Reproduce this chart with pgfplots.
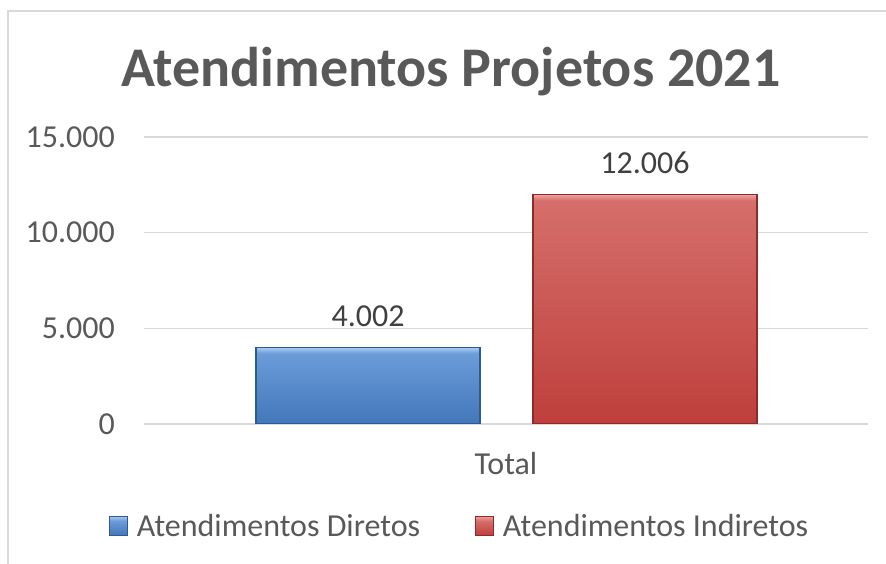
\documentclass[border=0pt]{standalone}
\usepackage{fontspec}
\setmainfont{Carlito}
\usepackage{pgfplots}
\pgfplotsset{compat=1.18}
\definecolor{txt}{HTML}{595959}
\definecolor{lbl}{HTML}{404040}
\definecolor{gridc}{HTML}{D9D9D9}
\definecolor{btop}{HTML}{6C9BD8}
\definecolor{bbot}{HTML}{4277BB}
\definecolor{blight}{HTML}{A9CBF2}
\definecolor{bdraw}{HTML}{2F5A8F}
\definecolor{rtop}{HTML}{D56E6A}
\definecolor{rbot}{HTML}{BF3F3C}
\definecolor{rlight}{HTML}{F0A3A0}
\definecolor{rdraw}{HTML}{8C2B29}
\pgfdeclareverticalshading{blueb}{100bp}{color(0bp)=(bbot); color(25bp)=(bbot); color(71bp)=(btop); color(75bp)=(blight); color(100bp)=(blight)}
\pgfdeclareverticalshading{redb}{100bp}{color(0bp)=(rbot); color(25bp)=(rbot); color(73.6bp)=(rtop); color(75bp)=(rlight); color(100bp)=(rlight)}
\pgfdeclareverticalshading{bluel}{100bp}{color(0bp)=(bbot); color(25bp)=(bbot); color(62bp)=(btop); color(75bp)=(blight); color(100bp)=(blight)}
\pgfdeclareverticalshading{redl}{100bp}{color(0bp)=(rbot); color(25bp)=(rbot); color(62bp)=(rtop); color(75bp)=(rlight); color(100bp)=(rlight)}
\begin{document}
\begin{tikzpicture}
\useasboundingbox (0pt,0pt) rectangle (886pt,564pt);
\draw[gridc, line width=1.5pt] (8pt,0pt) -- (8pt,553pt) -- (886pt,553pt);
\node[anchor=base, text=txt, font=\fontsize{56}{60}\selectfont\bfseries, inner sep=0pt] at (451pt,477pt) {Atendimentos Projetos 2021};
\begin{axis}[
  at={(144pt,140pt)}, anchor=south west, scale only axis,
  width=724pt, height=287pt,
  xmin=-1, xmax=1, ymin=0, ymax=15000,
  ybar, bar width=224pt,
  xtick={0}, xticklabels={Total},
  ytick={0,5000,10000,15000},
  ymajorgrids, grid style={gridc, line width=1.5pt},
  axis line style={draw=none},
  major tick length=0pt,
  scaled y ticks=false,
  /pgf/number format/.cd, fixed, precision=0, 1000 sep={.}, assume math mode=true,
  /pgfplots/.cd,
  tick label style={font=\fontsize{32}{36}\selectfont, text=txt, inner sep=0pt},
  yticklabel style={anchor=east, xshift=-29pt},
  xticklabel style={anchor=base, yshift=-51pt},
  nodes near coords,
  every node near coord/.append style={font=\fontsize{32}{36}\selectfont, text=lbl, inner sep=0pt, yshift=20pt},
  legend columns=2,
  legend style={draw=none, fill=none, inner sep=0pt, outer sep=0pt,
    at={(axis description cs:-0.0483,-0.397)}, anchor=south west,
    nodes={inner sep=0pt, text=txt, font=\fontsize{32}{36}\selectfont},
    /tikz/every odd column/.append style={column sep=9pt},
    /tikz/every even column/.append style={column sep=55pt}},
]
\addplot[bar shift=-138pt, draw=bdraw, line width=1.2pt, shade, shading=blueb,
  legend image code/.code={\path[shade, shading=bluel, draw=bdraw, line width=0.8pt] (0pt,-9pt) rectangle (18pt,10pt);}]
  coordinates {(0,4002)};
\addlegendentry{Atendimentos Diretos}
\addplot[bar shift=139pt, draw=rdraw, line width=1.2pt, shade, shading=redb,
  legend image code/.code={\path[shade, shading=redl, draw=rdraw, line width=0.8pt] (0pt,-9pt) rectangle (18pt,10pt);}]
  coordinates {(0,12006)};
\addlegendentry{Atendimentos Indiretos}
\end{axis}
\end{tikzpicture}
\end{document}
